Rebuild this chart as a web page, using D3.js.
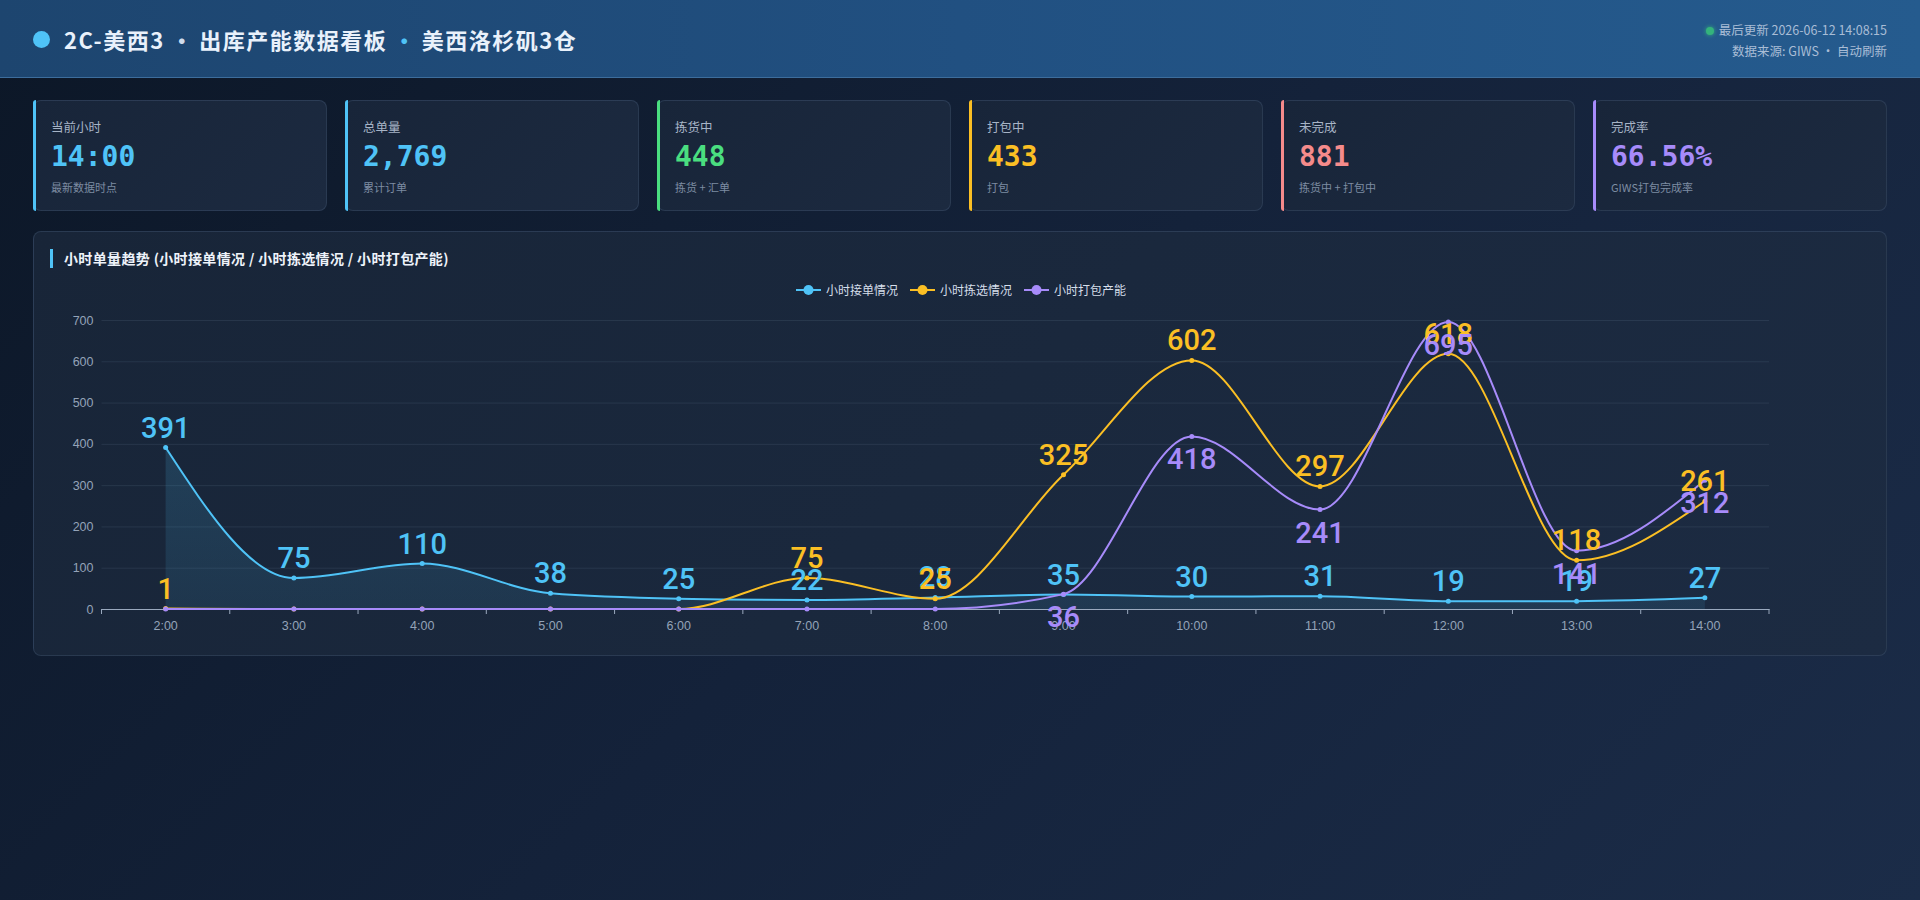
<!DOCTYPE html>
<html lang="zh-CN">
<head>
<meta charset="utf-8">
<title>2C-美西3 出库产能数据看板</title>
<script src="https://cdn.jsdelivr.net/npm/d3@7/dist/d3.min.js"></script>
<style>
  html, body { margin: 0; padding: 0; }
  body {
    width: 1920px; height: 900px; overflow: hidden;
    background: linear-gradient(135deg, #0c1727 0%, #14223a 50%, #1b2c48 100%);
    font-family: "Inter", "Noto Sans CJK SC", "Noto Sans", sans-serif;
    position: relative;
  }
  #header {
    position: absolute; left: 0; top: 0; width: 1920px; height: 77px;
    background: linear-gradient(90deg, #1d456f 0%, #215081 50%, #255b8e 100%);
    border-bottom: 1px solid #3d6d9c;
  }
  #title {
    position: absolute; left: 33px; top: 26px; height: 26px;
    display: flex; align-items: center;
    color: #e9f1fb; font-size: 22px; font-weight: 700; letter-spacing: 1.5px;
    font-family: "Noto Sans CJK SC", "Inter", sans-serif;
  }
  #title .dot { width: 17px; height: 17px; border-radius: 50%; background: #4fc3f7; margin-right: 14px; }
  #title .sep { margin: 0 5px 0 6px; color: #cfdcec; }
  #title .sep2 { margin: 0 5px 0 6px; color: #4fc3f7; }
  #meta {
    position: absolute; right: 33px; top: 19px; text-align: right;
    color: #a9bdd6; font-size: 12.5px; line-height: 21px;
    font-family: "Noto Sans CJK SC", "Inter", sans-serif;
  }
  #meta .live { display: inline-block; width: 8px; height: 8px; border-radius: 50%; background: #34b37c; margin-right: 5px; vertical-align: 0px; box-shadow: 0 0 4px #34b37c; }
  .card {
    position: absolute; top: 100px; height: 111px; width: 294px;
    background: linear-gradient(135deg, #182539, #1c2a40);
    border: 1px solid rgba(120,150,190,0.18);
    border-radius: 8px;
    box-sizing: border-box;
  }
  .card .bar { position: absolute; left: -1px; top: -1px; bottom: -1px; width: 3px; border-radius: 8px 0 0 8px; }
  .card .lbl { position: absolute; left: 17px; top: 16px; font-size: 12.5px; color: #a7b4c6; font-family: "Noto Sans CJK SC", sans-serif; }
  .card .val { position: absolute; left: 17px; top: 39px; font-size: 28px; font-weight: 700; font-family: "DejaVu Sans Mono", monospace; letter-spacing: 0px; }
  .card .sub { position: absolute; left: 17px; top: 78px; font-size: 11px; color: #7d8ca2; font-family: "Noto Sans CJK SC", sans-serif; }
  #panel {
    position: absolute; left: 33px; top: 231px; width: 1854px; height: 425px;
    background: linear-gradient(135deg, #182538, #1c2b42);
    border: 1px solid rgba(120,150,190,0.18);
    border-radius: 8px; box-sizing: border-box;
  }
  #panel svg { position: absolute; left: -1px; top: -1px; }
</style>
</head>
<body>
<div id="header">
  <div id="title"></div>
  <div id="meta"></div>
</div>
<div id="cards"></div>
<div id="panel"></div>
<script>
// ---------- data ----------
const titleParts = ["2C-美西3", "出库产能数据看板", "美西洛杉矶3仓"];
const updateText = "最后更新 2026-06-12 14:08:15";
const sourceText = "数据来源: GIWS · 自动刷新";

const kpiLabels = ["当前小时", "总单量", "拣货中", "打包中", "未完成", "完成率"];
const kpiValues = ["14:00", "2,769", "448", "433", "881", "66.56%"];
const kpiSubs   = ["最新数据时点", "累计订单", "拣货 + 汇单", "打包", "拣货中 + 打包中", "GIWS打包完成率"];
const kpiColors = ["#4fc3f7", "#4fc3f7", "#4ade80", "#fbbf24", "#f58b8b", "#a78bfa"];

const chartTitle = "小时单量趋势 (小时接单情况 / 小时拣选情况 / 小时打包产能)";
const hours = ["2:00","3:00","4:00","5:00","6:00","7:00","8:00","9:00","10:00","11:00","12:00","13:00","14:00"];
const seriesNames = ["小时接单情况", "小时拣选情况", "小时打包产能"];
const orderIn = [391, 75, 110, 38, 25, 22, 28, 35, 30, 31, 19, 19, 27];
const picked  = [1, 0, 0, 0, 0, 75, 25, 325, 602, 297, 618, 118, 261];
const packed  = [0, 0, 0, 0, 0, 0, 0, 36, 418, 241, 695, 141, 312];
const yTicks  = [0, 100, 200, 300, 400, 500, 600, 700];
const seriesColors = ["#4fc3f7", "#fbbf24", "#a78bfa"];
const labelPos = ["top", "top", "bottom"];

// ---------- header ----------
const t = d3.select("#title");
t.append("span").attr("class", "dot");
t.append("span").text(titleParts[0]);
t.append("span").attr("class", "sep").text("·");
t.append("span").text(titleParts[1]);
t.append("span").attr("class", "sep2").text("·");
t.append("span").text(titleParts[2]);

const m = d3.select("#meta");
const l1 = m.append("div");
l1.append("span").attr("class", "live");
l1.append("span").text(updateText);
m.append("div").text(sourceText);

// ---------- KPI cards ----------
const cardW = 294, cardGap = (1854 - 6 * cardW) / 5;
const cards = d3.select("#cards").selectAll("div.card")
  .data(kpiLabels.map((d, i) => ({ label: d, value: kpiValues[i], sub: kpiSubs[i], color: kpiColors[i] })))
  .join("div").attr("class", "card")
  .style("left", (d, i) => (33 + i * (cardW + cardGap)) + "px");
cards.append("div").attr("class", "bar").style("background", d => d.color);
cards.append("div").attr("class", "lbl").text(d => d.label);
cards.append("div").attr("class", "val").style("color", d => d.color).text(d => d.value);
cards.append("div").attr("class", "sub").text(d => d.sub);

// ---------- chart ----------
const W = 1854, H = 425;
const svg = d3.select("#panel").append("svg").attr("width", W).attr("height", H);

// title
svg.append("rect").attr("x", 17).attr("y", 18).attr("width", 3).attr("height", 19).attr("fill", "#4fc3f7");
svg.append("text").attr("x", 31).attr("y", 33)
  .attr("fill", "#eef3fa").attr("font-size", 14).attr("font-weight", 700)
  .attr("letter-spacing", 0.35)
  .attr("font-family", "'Noto Sans CJK SC', sans-serif")
  .text(chartTitle);

const plot = { left: 68.5, right: 1736, top: 89, bottom: 378 };
const x = d3.scaleBand().domain(hours).range([plot.left, plot.right]).padding(0);
const y = d3.scaleLinear().domain([0, 700]).range([plot.bottom, plot.top]);
const cx = h => x(h) + x.bandwidth() / 2;

// grid + y axis
const yAxis = svg.append("g").attr("transform", `translate(${plot.left},0)`)
  .call(d3.axisLeft(y).tickValues(yTicks).tickSize(-(plot.right - plot.left)).tickPadding(8).tickFormat(d3.format("d")));
yAxis.select(".domain").remove();
yAxis.selectAll(".tick line").attr("stroke", "rgba(148,170,200,0.12)").attr("stroke-width", 1);
yAxis.selectAll(".tick text").attr("fill", "#94a3b8").attr("font-size", 12.5).attr("font-family", "'Liberation Sans', Arial, sans-serif");
yAxis.selectAll(".tick").filter(d => d === 0).select("line").remove();

// x axis
const xAxis = svg.append("g").attr("transform", `translate(0,${plot.bottom})`)
  .call(d3.axisBottom(x).tickSize(0).tickPadding(12));
xAxis.select(".domain").attr("stroke", "#9aa9be").attr("stroke-width", 1);
xAxis.selectAll(".tick text").attr("fill", "#94a3b8").attr("font-size", 12.5).attr("font-family", "'Liberation Sans', Arial, sans-serif");
const bounds = hours.map(h => x(h)).concat([x(hours[hours.length - 1]) + x.bandwidth()]);
svg.append("g").selectAll("line").data(bounds).join("line")
  .attr("x1", d => d).attr("x2", d => d)
  .attr("y1", plot.bottom).attr("y2", plot.bottom + 5)
  .attr("stroke", "#9aa9be").attr("stroke-width", 1);

// area gradient for first series
const defs = svg.append("defs");
const grad = defs.append("linearGradient").attr("id", "areaGrad").attr("x1", 0).attr("y1", 0).attr("x2", 0).attr("y2", 1);
grad.append("stop").attr("offset", "0%").attr("stop-color", "#4fc3f7").attr("stop-opacity", 0.16);
grad.append("stop").attr("offset", "100%").attr("stop-color", "#4fc3f7").attr("stop-opacity", 0.10);

const allSeries = [orderIn, picked, packed];
const curve = d3.curveMonotoneX;

svg.append("path")
  .datum(orderIn)
  .attr("fill", "url(#areaGrad)")
  .attr("d", d3.area().x((d, i) => cx(hours[i])).y0(y(0)).y1(d => y(d)).curve(curve));

const lineGen = d3.line().x((d, i) => cx(hours[i])).y(d => y(d)).curve(curve);

allSeries.forEach((vals, si) => {
  const g = svg.append("g");
  g.append("path").datum(vals)
    .attr("fill", "none").attr("stroke", seriesColors[si]).attr("stroke-width", 2)
    .attr("d", lineGen);
  g.selectAll("circle").data(vals).join("circle")
    .attr("cx", (d, i) => cx(hours[i])).attr("cy", d => y(d)).attr("r", 2.5)
    .attr("fill", seriesColors[si]);
});

// value labels
allSeries.forEach((vals, si) => {
  svg.append("g").selectAll("text").data(vals.map((v, i) => ({ v, i })).filter(d => d.v !== 0)).join("text")
    .attr("x", d => cx(hours[d.i]))
    .attr("y", d => labelPos[si] === "top" ? y(d.v) - 10 : y(d.v) + 33)
    .attr("text-anchor", "middle")
    .attr("fill", seriesColors[si])
    .attr("font-size", 29)
    .attr("font-weight", 500)
    .attr("font-family", "Roboto, 'Liberation Sans', Arial, sans-serif")
    .text(d => d.v);
});

// legend
const legend = svg.append("g").attr("transform", "translate(0,59)");
const items = legend.selectAll("g").data(seriesNames).join("g");
items.append("line").attr("x1", 0).attr("x2", 25).attr("y1", 0).attr("y2", 0)
  .attr("stroke", (d, i) => seriesColors[i]).attr("stroke-width", 2);
items.append("circle").attr("cx", 12.5).attr("cy", 0).attr("r", 5).attr("fill", (d, i) => seriesColors[i]);
items.append("text").attr("x", 30).attr("y", 4.5).attr("fill", "#d5deea").attr("font-size", 12)
  .attr("font-family", "'Noto Sans CJK SC', sans-serif").text(d => d);
let offs = [], acc = 0;
items.each(function (d, i) {
  const w = 30 + this.querySelector("text").getComputedTextLength();
  offs.push(acc); acc += w + (i < seriesNames.length - 1 ? 12 : 0);
});
const startX = W / 2 - acc / 2 + 1;
items.attr("transform", (d, i) => `translate(${startX + offs[i]},0)`);
</script>
</body>
</html>
